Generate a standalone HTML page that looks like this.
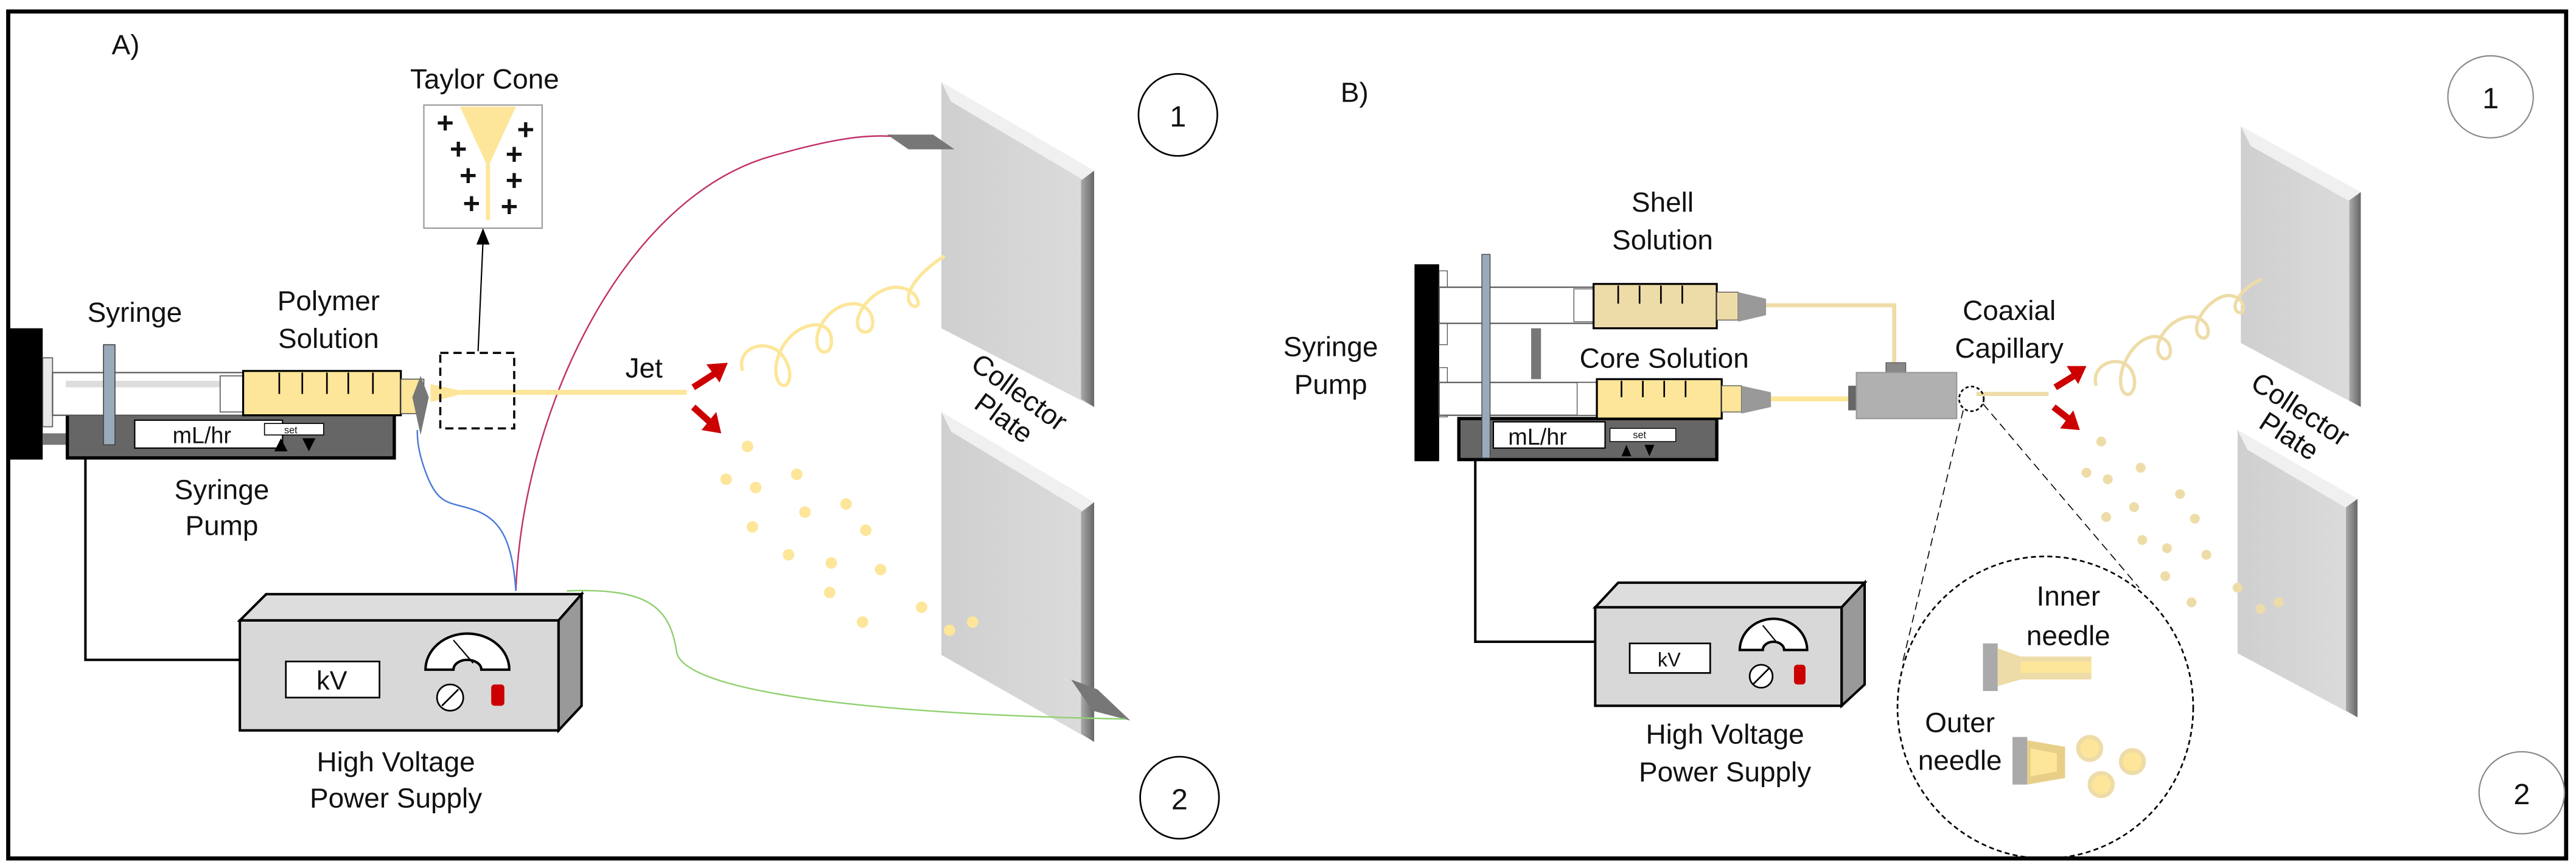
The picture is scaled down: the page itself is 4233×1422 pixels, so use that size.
<!DOCTYPE html>
<html><head><meta charset="utf-8"><style>html,body{margin:0;padding:0;background:#fff}svg{display:block}text{font-family:"Liberation Sans",sans-serif;fill:#111}</style></head><body>
<svg width="4233" height="1422" viewBox="0 0 1568 527" preserveAspectRatio="none" xmlns="http://www.w3.org/2000/svg">
<defs>
<linearGradient id="pl" x1="0" y1="0" x2="1" y2="0"><stop offset="0" stop-color="#cfcfcf"/><stop offset="1" stop-color="#dcdcdc"/></linearGradient>
<linearGradient id="ps" x1="0" x2="1"><stop offset="0" stop-color="#aaa"/><stop offset="1" stop-color="#666"/></linearGradient>
</defs>
<rect x="5" y="7" width="1557" height="516" fill="#fff" stroke="#000" stroke-width="2.5"/>
<!-- ===== A ===== -->
<text x="68" y="33" font-size="17">A)</text>
<text x="295" y="54" font-size="17" text-anchor="middle">Taylor Cone</text>
<rect x="258" y="64" width="72" height="75" fill="#fff" stroke="#999" stroke-width="0.8"/>
<polygon points="280,65 314,65 297,102" fill="#fde69a"/>
<line x1="297" y1="98" x2="297" y2="134" stroke="#fde69a" stroke-width="2.5"/>
<g font-size="18" font-weight="bold" fill="#000" text-anchor="middle">
<text x="271" y="81">+</text><text x="320" y="85">+</text><text x="279" y="97">+</text><text x="313" y="100">+</text><text x="285" y="113">+</text><text x="313" y="116">+</text><text x="287" y="130">+</text><text x="310" y="132">+</text></g>
<line x1="291" y1="214" x2="294" y2="147" stroke="#000" stroke-width="0.8"/>
<polygon points="294,139 290,149 298,149" fill="#000"/>
<!-- plates A -->
<polygon points="573,50 666,104 666,248 573,200" fill="url(#pl)"/>
<polygon points="573,50 666,104 660,110 579,62" fill="#f0f0f0"/>
<polygon points="658,110 666,104 666,248 658,243" fill="url(#ps)"/>
<polygon points="573,251 666,306 666,452 573,399" fill="url(#pl)"/>
<polygon points="573,251 666,306 660,312 579,263" fill="#f0f0f0"/>
<polygon points="658,312 666,306 666,452 658,447" fill="url(#ps)"/>
<text font-size="17" transform="translate(590,224) rotate(36)">Collector</text>
<text font-size="17" transform="translate(592,248) rotate(36)">Plate</text>
<polygon points="540,82 568,82 581,91 553,91" fill="#777"/>
<polygon points="652,414 668,420 688,439 665,433" fill="#777"/>
<ellipse cx="717" cy="70" rx="24" ry="25" fill="#fff" stroke="#000" stroke-width="1"/><text x="717" y="77" font-size="18" text-anchor="middle">1</text>
<ellipse cx="718" cy="486" rx="24" ry="25" fill="#fff" stroke="#000" stroke-width="1"/><text x="718" y="493" font-size="18" text-anchor="middle">2</text>
<!-- wires A -->
<path d="M314,360 C318,250 380,120 470,95 C505,85 525,82 542,83" fill="none" stroke="#c0306a" stroke-width="0.9"/>
<path d="M314,360 C312,330 305,318 292,312 C275,305 268,310 260,290 C254,275 254,266 254,262" fill="none" stroke="#4a7ad8" stroke-width="0.9"/>
<path d="M345,360 C395,358 408,370 412,398 C420,425 560,436 685,438" fill="none" stroke="#90d070" stroke-width="0.9"/>
<path d="M52,279 V402 H147" fill="none" stroke="#000" stroke-width="1.5"/>
<!-- syringe pump A -->
<rect x="6" y="200" width="20" height="80" fill="#000"/>
<rect x="26" y="218" width="6" height="42" fill="#e8e8e8" stroke="#555" stroke-width="0.6"/>
<rect x="26" y="264" width="16" height="7" fill="#777"/>
<rect x="41" y="250" width="199" height="29" fill="#666" stroke="#000" stroke-width="2"/>
<rect x="82" y="256" width="90" height="17" fill="#fff" stroke="#000" stroke-width="0.8"/>
<text x="105" y="270" font-size="14">mL/hr</text>
<rect x="161" y="258" width="36" height="7" fill="#fff" stroke="#000" stroke-width="0.6"/>
<text x="173" y="264" font-size="6">set</text>
<polygon points="167,275 171,267 175,275" fill="#000"/><polygon points="184,267 192,267 188,275" fill="#000"/>
<rect x="32" y="227" width="116" height="26" fill="#fff" stroke="#555" stroke-width="0.8"/>
<rect x="40" y="232" width="95" height="4" fill="#ddd"/>
<rect x="134" y="229" width="14" height="22" fill="#fff" stroke="#555" stroke-width="0.6"/>
<rect x="148" y="226" width="96" height="27" fill="#fde69a" stroke="#000" stroke-width="1.2"/>
<g stroke="#000" stroke-width="1"><line x1="170" y1="227" x2="170" y2="240"/><line x1="184" y1="227" x2="184" y2="240"/><line x1="199" y1="227" x2="199" y2="240"/><line x1="212" y1="227" x2="212" y2="240"/><line x1="227" y1="227" x2="227" y2="240"/></g>
<rect x="244" y="231" width="14" height="21" fill="#fde69a" stroke="#555" stroke-width="0.6"/>
<rect x="63" y="210" width="7" height="61" fill="#9ab" stroke="#444" stroke-width="0.6"/>
<polygon points="256,229 261,242 256,265 251,242" fill="#777"/>
<polygon points="262,234 285,239 262,245" fill="#fde69a"/>
<line x1="280" y1="239" x2="418" y2="239" stroke="#fde69a" stroke-width="3"/>
<rect x="268" y="215" width="45" height="46" fill="none" stroke="#000" stroke-width="1.3" stroke-dasharray="5,3"/>
<text x="82" y="196" font-size="17" text-anchor="middle">Syringe</text>
<text x="200" y="189" font-size="17" text-anchor="middle">Polymer</text>
<text x="200" y="212" font-size="17" text-anchor="middle">Solution</text>
<text x="135" y="304" font-size="17" text-anchor="middle">Syringe</text>
<text x="135" y="326" font-size="17" text-anchor="middle">Pump</text>
<text x="392" y="230" font-size="17" text-anchor="middle">Jet</text>
<!-- red arrows -->
<path d="M422,236 L436,227" stroke="#c00" stroke-width="4"/><polygon points="443,221 430,222 438,233" fill="#c00"/>
<path d="M422,248 L432,257" stroke="#c00" stroke-width="4"/><polygon points="439,264 427,262 436,251" fill="#c00"/>
<path d="M452,226 C448,212 465,206 475,215 C485,226 480,240 474,233 C468,222 478,200 495,198 C510,196 508,218 500,214 C492,208 502,185 520,185 C534,186 534,205 525,202 C516,198 528,176 545,175 C560,175 562,190 555,186 C548,180 560,165 575,156" fill="none" stroke="#fde69a" stroke-width="2"/>
<g fill="#fde69a"><circle cx="455" cy="272" r="3.5"/><circle cx="442" cy="292" r="3.5"/><circle cx="460" cy="297" r="3.5"/><circle cx="485" cy="289" r="3.5"/><circle cx="490" cy="312" r="3.5"/><circle cx="515" cy="307" r="3.5"/><circle cx="458" cy="321" r="3.5"/><circle cx="527" cy="323" r="3.5"/><circle cx="480" cy="338" r="3.5"/><circle cx="506" cy="343" r="3.5"/><circle cx="536" cy="347" r="3.5"/><circle cx="505" cy="361" r="3.5"/><circle cx="525" cy="379" r="3.5"/><circle cx="561" cy="370" r="3.5"/><circle cx="578" cy="384" r="3.5"/><circle cx="592" cy="379" r="3.5"/></g>
<!-- power supply A -->
<polygon points="146,378 162,362 354,362 340,378" fill="#ddd" stroke="#000" stroke-width="1.5"/>
<rect x="146" y="378" width="194" height="67" fill="#d8d8d8" stroke="#000" stroke-width="1.5"/>
<polygon points="340,378 354,362 354,430 340,445" fill="#999" stroke="#000" stroke-width="1.5"/>
<rect x="174" y="403" width="57" height="22" fill="#fff" stroke="#000" stroke-width="1"/>
<text x="202" y="420" font-size="16" text-anchor="middle">kV</text>
<path d="M259,408 A25.5,22 0 0 1 310,408 H293 A8.5,6 0 0 0 276,408 Z" fill="#fff" stroke="#000" stroke-width="1.5"/>
<line x1="276" y1="390" x2="288" y2="404" stroke="#000" stroke-width="0.8"/>
<circle cx="274" cy="425" r="8" fill="#fff" stroke="#000"/><line x1="269" y1="430" x2="279" y2="420" stroke="#000"/>
<rect x="299" y="417" width="8" height="13" rx="2" fill="#c00"/>
<text x="241" y="470" font-size="17" text-anchor="middle">High Voltage</text>
<text x="241" y="492" font-size="17" text-anchor="middle">Power Supply</text>
<!-- ===== B ===== -->
<text x="816" y="62" font-size="17">B)</text>
<ellipse cx="1516" cy="59" rx="26" ry="25" fill="#fff" stroke="#888" stroke-width="0.8"/><text x="1516" y="66" font-size="18" text-anchor="middle">1</text>
<ellipse cx="1535" cy="483" rx="26" ry="25" fill="#fff" stroke="#888" stroke-width="0.8"/><text x="1535" y="490" font-size="18" text-anchor="middle">2</text>
<polygon points="1364,77 1437,117 1437,248 1364,209" fill="url(#pl)"/>
<polygon points="1364,77 1437,117 1431,123 1370,89" fill="#f0f0f0"/>
<polygon points="1430,122 1437,117 1437,248 1430,244" fill="url(#ps)"/>
<polygon points="1362,262 1435,304 1435,437 1362,398" fill="url(#pl)"/>
<polygon points="1362,262 1435,304 1429,310 1368,274" fill="#f0f0f0"/>
<polygon points="1428,309 1435,304 1435,437 1428,433" fill="url(#ps)"/>
<text font-size="17" transform="translate(1369,236) rotate(33)">Collector</text>
<text font-size="17" transform="translate(1374,260) rotate(33)">Plate</text>
<text x="1012" y="129" font-size="17" text-anchor="middle">Shell</text>
<text x="1012" y="152" font-size="17" text-anchor="middle">Solution</text>
<text x="1013" y="224" font-size="17" text-anchor="middle">Core Solution</text>
<text x="810" y="217" font-size="17" text-anchor="middle">Syringe</text>
<text x="810" y="240" font-size="17" text-anchor="middle">Pump</text>
<text x="1223" y="195" font-size="17" text-anchor="middle">Coaxial</text>
<text x="1223" y="218" font-size="17" text-anchor="middle">Capillary</text>
<path d="M898,280 V391 H971" fill="none" stroke="#000" stroke-width="1.5"/>
<rect x="861" y="161" width="15" height="120" fill="#000"/>
<rect x="876" y="165" width="5" height="45" fill="#fff" stroke="#555" stroke-width="0.5"/>
<rect x="876" y="224" width="5" height="30" fill="#fff" stroke="#555" stroke-width="0.5"/>
<rect x="888" y="255" width="157" height="25" fill="#666" stroke="#000" stroke-width="2"/>
<rect x="909" y="257" width="68" height="16" fill="#fff" stroke="#000" stroke-width="0.8"/>
<text x="918" y="271" font-size="14">mL/hr</text>
<rect x="980" y="261" width="40" height="8" fill="#fff" stroke="#000" stroke-width="0.5"/>
<text x="994" y="267" font-size="6">set</text>
<polygon points="987,278 990,271 993,278" fill="#000"/><polygon points="1001,271 1007,271 1004,278" fill="#000"/>
<rect x="876" y="175" width="94" height="22" fill="#fff" stroke="#555" stroke-width="0.8"/>
<rect x="876" y="233" width="96" height="20" fill="#fff" stroke="#555" stroke-width="0.8"/>
<rect x="958" y="176" width="12" height="20" fill="#fff" stroke="#555" stroke-width="0.5"/>
<rect x="960" y="233" width="12" height="20" fill="#fff" stroke="#555" stroke-width="0.5"/>
<rect x="932" y="200" width="6" height="31" fill="#777"/>
<rect x="902" y="155" width="5" height="124" fill="#9ab" stroke="#444" stroke-width="0.5"/>
<rect x="970" y="173" width="75" height="27" fill="#eedca8" stroke="#000" stroke-width="1.2"/>
<rect x="972" y="231" width="76" height="24" fill="#fde69a" stroke="#000" stroke-width="1.2"/>
<g stroke="#000" stroke-width="1"><line x1="985" y1="174" x2="985" y2="185"/><line x1="998" y1="174" x2="998" y2="185"/><line x1="1011" y1="174" x2="1011" y2="185"/><line x1="1024" y1="174" x2="1024" y2="185"/><line x1="987" y1="232" x2="987" y2="242"/><line x1="1000" y1="232" x2="1000" y2="242"/><line x1="1013" y1="232" x2="1013" y2="242"/><line x1="1026" y1="232" x2="1026" y2="242"/></g>
<rect x="1045" y="178" width="13" height="17" fill="#eedca8" stroke="#555" stroke-width="0.5"/>
<rect x="1048" y="235" width="12" height="16" fill="#fde69a" stroke="#555" stroke-width="0.5"/>
<polygon points="1058,178 1075,182 1075,192 1058,196" fill="#999"/>
<polygon points="1060,235 1078,239 1078,248 1060,252" fill="#999"/>
<path d="M1075,186 H1153 V222" fill="none" stroke="#eedca8" stroke-width="2.5"/>
<line x1="1078" y1="243" x2="1126" y2="243" stroke="#fde69a" stroke-width="3"/>
<rect x="1148" y="221" width="12" height="7" fill="#888" stroke="#555" stroke-width="0.5"/>
<rect x="1125" y="235" width="6" height="15" fill="#666"/>
<rect x="1130" y="227" width="61" height="28" fill="#b0b0b0" stroke="#999" stroke-width="0.8"/>
<line x1="1203" y1="240" x2="1247" y2="240" stroke="#eedca8" stroke-width="2.5"/>
<circle cx="1200" cy="243" r="7.5" fill="none" stroke="#000" stroke-dasharray="2,1.5"/>
<line x1="1195" y1="250" x2="1158" y2="404" stroke="#000" stroke-width="0.6" stroke-dasharray="5,3"/>
<line x1="1207" y1="246" x2="1302" y2="358" stroke="#000" stroke-width="0.6" stroke-dasharray="5,3"/>
<ellipse cx="1245" cy="431" rx="90" ry="92" fill="none" stroke="#000" stroke-width="1" stroke-dasharray="3,2"/>
<text x="1259" y="369" font-size="17" text-anchor="middle">Inner</text>
<text x="1259" y="393" font-size="17" text-anchor="middle">needle</text>
<text x="1193" y="446" font-size="17" text-anchor="middle">Outer</text>
<text x="1193" y="469" font-size="17" text-anchor="middle">needle</text>
<rect x="1207" y="392" width="9" height="29" fill="#aaa"/><polygon points="1216,395 1230,400 1230,414 1216,418" fill="#eedca8"/><rect x="1230" y="400" width="43" height="14" fill="#eedca8"/><rect x="1230" y="403" width="43" height="7" fill="#fde69a"/>
<rect x="1225" y="449" width="9" height="29" fill="#aaa"/><polygon points="1234,451 1257,455 1257,474 1234,478" fill="#e8cf88"/><polygon points="1236,456 1252,459 1252,470 1236,473" fill="#fde69a"/>
<g fill="#fde69a" stroke="#eedca8" stroke-width="2.5"><circle cx="1272" cy="456" r="7"/><circle cx="1298" cy="464" r="7"/><circle cx="1279" cy="478" r="7"/></g>
<path d="M1251,236 L1264,228" stroke="#c00" stroke-width="4"/><polygon points="1270,223 1258,223 1265,234" fill="#c00"/>
<path d="M1250,248 L1259,255" stroke="#c00" stroke-width="4"/><polygon points="1266,262 1254,261 1262,250" fill="#c00"/>
<path d="M1276,235 C1272,222 1290,215 1297,225 C1303,235 1296,245 1292,238 C1287,228 1298,205 1312,205 C1325,206 1322,222 1316,218 C1308,212 1320,192 1335,193 C1348,195 1345,210 1339,205 C1332,199 1345,180 1357,180 C1368,181 1367,193 1362,190 C1357,186 1365,175 1377,170" fill="none" stroke="#eedca8" stroke-width="2"/>
<g fill="#eedca8"><circle cx="1279" cy="269" r="3"/><circle cx="1270" cy="288" r="3"/><circle cx="1283" cy="292" r="3"/><circle cx="1303" cy="285" r="3"/><circle cx="1327" cy="301" r="3"/><circle cx="1299" cy="309" r="3"/><circle cx="1282" cy="315" r="3"/><circle cx="1336" cy="316" r="3"/><circle cx="1304" cy="329" r="3"/><circle cx="1319" cy="334" r="3"/><circle cx="1343" cy="338" r="3"/><circle cx="1318" cy="351" r="3"/><circle cx="1334" cy="367" r="3"/><circle cx="1362" cy="358" r="3"/><circle cx="1376" cy="371" r="3"/><circle cx="1387" cy="367" r="3"/></g>
<!-- power supply B -->
<polygon points="971,370 985,355 1135,355 1121,370" fill="#ddd" stroke="#000" stroke-width="1.5"/>
<rect x="971" y="370" width="150" height="60" fill="#d8d8d8" stroke="#000" stroke-width="1.5"/>
<polygon points="1121,370 1135,355 1135,417 1121,430" fill="#999" stroke="#000" stroke-width="1.5"/>
<rect x="992" y="392" width="49" height="18" fill="#fff" stroke="#000" stroke-width="1"/>
<text x="1016" y="406" font-size="12" text-anchor="middle">kV</text>
<path d="M1059,396 A20.5,19 0 0 1 1100,396 H1086 A6.5,5 0 0 0 1073,396 Z" fill="#fff" stroke="#000" stroke-width="1.5"/>
<line x1="1073" y1="381" x2="1082" y2="392" stroke="#000" stroke-width="0.8"/>
<circle cx="1072" cy="412" r="7" fill="#fff" stroke="#000"/><line x1="1067" y1="417" x2="1077" y2="407" stroke="#000"/>
<rect x="1092" y="405" width="7" height="12" rx="2" fill="#c00"/>
<text x="1050" y="453" font-size="17" text-anchor="middle">High Voltage</text>
<text x="1050" y="476" font-size="17" text-anchor="middle">Power Supply</text>
</svg>
</body></html>
